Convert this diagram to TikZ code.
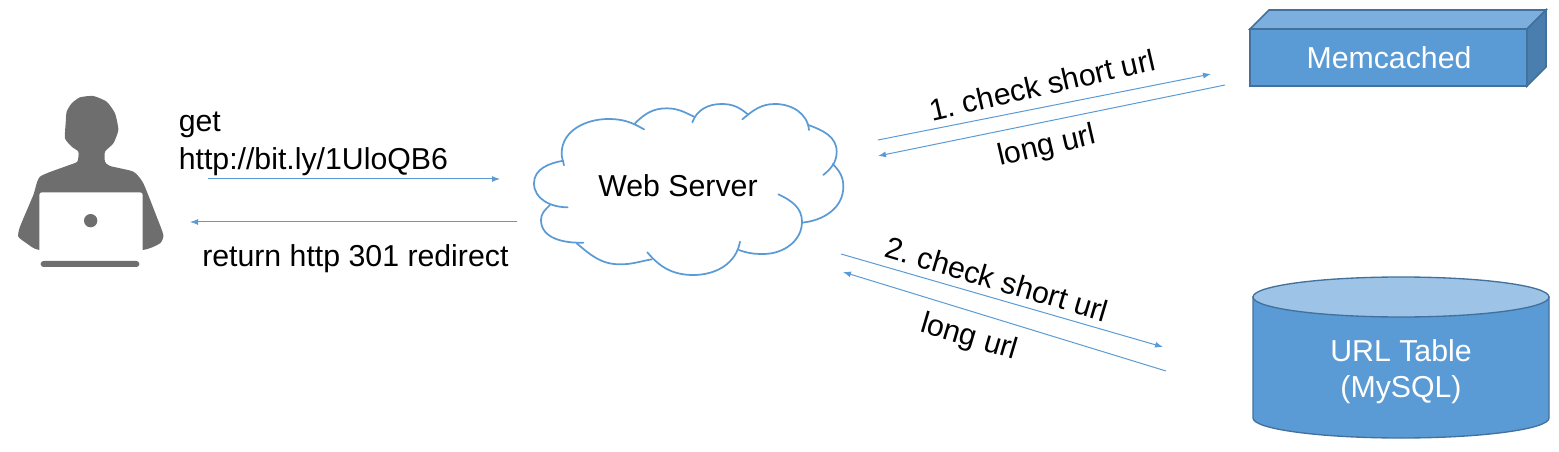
\documentclass[tikz,border=0pt]{standalone}
\usepackage{fontspec}
\setmainfont{Liberation Sans}
\frenchspacing
\usetikzlibrary{arrows.meta}
\definecolor{blueA}{HTML}{5B9BD5}
\definecolor{blueTop}{HTML}{7CAFDE}
\definecolor{blueSide}{HTML}{497EAE}
\definecolor{blueEdge}{HTML}{41719C}
\definecolor{blueEll}{HTML}{9DC3E6}
\definecolor{personGray}{HTML}{6E6E6E}
\tikzset{
  lbl/.style={font=\fontsize{22.7pt}{27pt}\selectfont,text=black,inner sep=0pt},
  wlbl/.style={font=\fontsize{22.7pt}{27pt}\selectfont,text=white,inner sep=0pt,align=center},
  flow/.style={draw=blueA,line width=0.75pt,-{Latex[length=6pt,width=4.5pt]}},
  cloudline/.style={draw=blueA,line width=1.3pt,line cap=round},
  boxface/.style={draw=blueEdge,line width=1.3pt,line join=miter},
}
\begin{document}
\begin{tikzpicture}[x=0.75pt,y=-0.75pt]
\useasboundingbox (0,0) rectangle (1559,452);
% person
\begin{scope}[shift={(0,80)},x=0.25pt,y=-0.25pt]
\fill[personGray] plot[smooth cycle,tension=0.35] coordinates {
 (235,215) (232,245) (200,258) (120,290) (100,345) (60,440) (55,470) (80,490) (118,510) (270,515) (428,510) (480,490) (490,465) (470,410) (430,310) (400,275) (330,258) (315,245) (315,215) (340,190) (355,150) (345,100) (320,65) (280,48) (240,52) (215,70) (200,95) (197,130) (195,175) (215,200)};
\fill[white,rounded corners=2pt] (118,337) rectangle (428,530);
\fill[personGray] (272,422) circle (20);
\fill[personGray,rounded corners=2.2pt] (122,543) rectangle (418,561);
\end{scope}
% cloud
\begin{scope}[shift={(520,90)},x=0.25pt,y=-0.25pt]
\path[cloudline] (132,226) to[out=100,in=270] (125,190) to[out=90,in=180] (265,87) to[out=0,in=150] (372,118);
\path[cloudline] (345,100) to[out=45,in=180] (440,55) to[out=0,in=155] (522,80);
\path[cloudline] (517,97) to[out=70,in=180] (605,42) to[out=0,in=140] (682,72);
\path[cloudline] (667,88) to[out=40,in=180] (765,42) to[out=0,in=95] (867,120);
\path[cloudline] (865,105) to[out=-20,in=90] (950,185) to[out=-90,in=40] (910,255);
\path[cloudline] (938,222) to[out=-45,in=90] (970,290) to[out=-90,in=5] (845,398);
\path[cloudline] (775,313) to[out=-25,in=90] (846,395) to[out=-90,in=0] (730,492) to[out=180,in=-20] (657,480);
\path[cloudline] (660,455) to[out=-100,in=0] (520,555) to[out=180,in=-50] (382,487);
\path[cloudline] (395,508) to[out=190,in=0] (300,523) to[out=180,in=-40] (170,460);
\path[cloudline] (190,458) to[out=182,in=-90] (63,390) to[out=90,in=-135] (90,345);
\path[cloudline] (143,352) to[out=180,in=-90] (42,280) to[out=90,in=190] (130,212);
\end{scope}
\node[lbl] (web) at (678,186) {Web Server};
% memcached box
\coordinate (mA) at (1250,29);
\coordinate (mB) at (1527,29);
\coordinate (mC) at (1527,86);
\coordinate (mD) at (1250,86);
\coordinate (mE) at (1269,10);
\coordinate (mF) at (1546,10);
\coordinate (mG) at (1546,67);
\path[boxface,fill=blueTop] (mA) -- (mE) -- (mF) -- (mB) -- cycle;
\path[boxface,fill=blueSide] (mB) -- (mF) -- (mG) -- (mC) -- cycle;
\path[boxface,fill=blueA] (mA) -- (mB) -- (mC) -- (mD) -- cycle;
\node[wlbl] (mem) at (1389,57.5) {Memcached};
% cylinder
\path[draw=blueEdge,line width=1pt,fill=blueA] (1253,297) -- (1253,418) arc[start angle=180,end angle=360,x radius=111pt,y radius=15pt] -- (1549,297) -- cycle;
\path[draw=blueEdge,line width=1pt,fill=blueEll] (1401,297) ellipse[x radius=111pt,y radius=15pt];
\node[wlbl] (db) at (1401,372) {URL Table\\(MySQL)};
% connectors
\coordinate (a1) at (208,179); \coordinate (a2) at (500,179);
\coordinate (b1) at (517,222); \coordinate (b2) at (190,222);
\coordinate (c1) at (878,140); \coordinate (c2) at (1211,74);
\coordinate (d1) at (1225,85); \coordinate (d2) at (878,156);
\coordinate (e1) at (841,254); \coordinate (e2) at (1163,347);
\coordinate (f1) at (1166,371); \coordinate (f2) at (843,272);
\draw[flow] (a1) -- (a2);
\draw[flow] (b1) -- (b2);
\draw[flow] (c1) -- (c2);
\draw[flow] (d1) -- (d2);
\draw[flow] (e1) -- (e2);
\draw[flow] (f1) -- (f2);
% labels
\node[lbl,anchor=base west] (t1) at (178.5,132) {get};
\node[lbl,anchor=base west] (t2) at (178.5,170) {http://bit.ly/1UloQB6};
\node[lbl,anchor=base west] (t3) at (202,267) {return http 301 redirect};
\node[lbl,rotate=13] (t4) at (1042,85) {1. check short url};
\node[lbl,rotate=13] (t5) at (1047,147) {long url};
\node[lbl,rotate=-16.5] (t6) at (997,279) {2. check short url};
\node[lbl,rotate=-16.5] (t7) at (969,338) {long url};
\end{tikzpicture}
\end{document}
